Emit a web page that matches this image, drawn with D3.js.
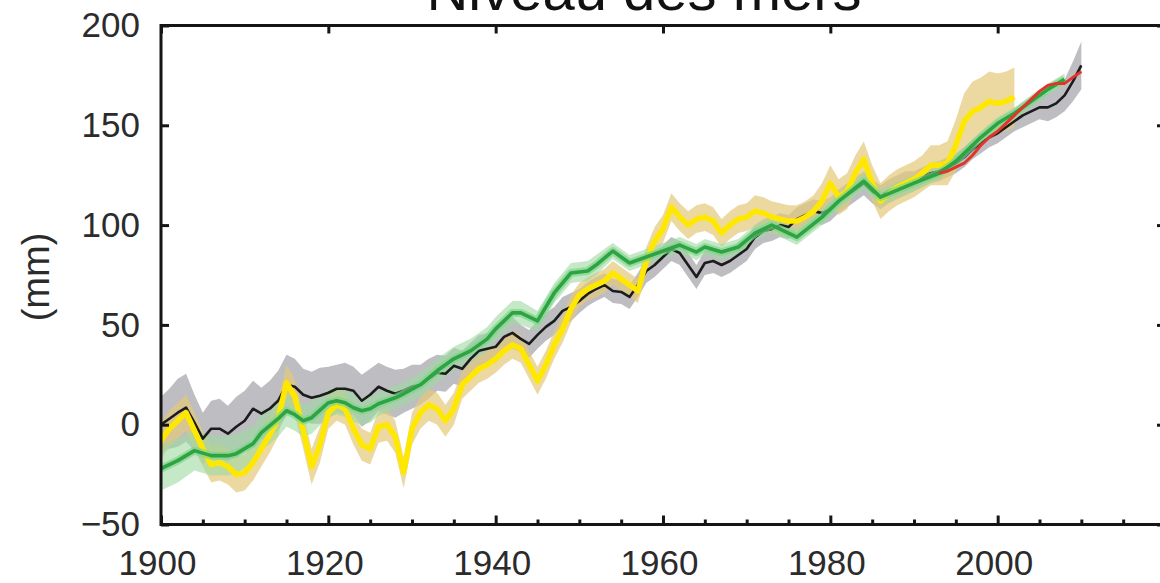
<!DOCTYPE html>
<html>
<head>
<meta charset="utf-8">
<script src="https://cdn.jsdelivr.net/npm/d3@7/dist/d3.min.js"></script>
<style>
  html, body { margin: 0; padding: 0; background: #fff; }
  svg { display: block; font-family: "Liberation Sans", Arial, sans-serif; }
</style>
</head>
<body>
<svg id="chart" width="1160" height="583"></svg>
<script>
// ---------- DATA ----------
const title = "Niveau des mers";
const yLabel = "(mm)";
const xTickLabels = [1900, 1920, 1940, 1960, 1980, 2000];
const yTickLabels = [-50, 0, 50, 100, 150, 200];

// Black series (annual, starting 1900) with grey uncertainty band
const blackStart = 1900;
const blackValues = [
  0, 3, 6, 8.5, 1, -7, -2, -2, -4.5, -1,
  2, 8, 5.5, 8, 12, 20, 19, 15, 13.5, 14.5,
  16, 18, 18, 17, 12, 15, 19, 17, 15.5, 17,
  19, 20, 23, 26, 25.5, 29.5, 28, 33, 37, 38,
  39, 44, 46, 43, 40.5, 45, 49, 52, 57, 59,
  62, 65.5, 68, 70, 67, 66.5, 64, 70, 77, 80,
  84, 88, 86, 80, 74, 81, 82, 80, 82, 85,
  88, 94, 97, 98, 100, 99, 103, 105, 107, 106,
  108, 112, 115, 118, 121, 117, 114, 117, 119, 121,
  122, 124, 126, 127, 129, 131, 134, 138, 141, 144,
  146, 149, 152, 155, 157, 159, 159, 161, 165, 172,
  180
];
const blackErr = [
  14, 15, 17, 17, 14, 13, 14, 15, 14, 15,
  15, 14, 13, 14, 15, 15, 14, 13, 13, 14,
  13, 12, 13, 12, 13, 13, 12, 12, 12, 11,
  11, 10, 10, 9, 9, 9, 9, 8, 8, 8,
  8, 8, 8, 7, 7, 7, 7, 7, 7, 7,
  6, 6, 6, 6, 6, 6, 6, 6, 6, 6,
  6, 6, 6, 6, 6, 6, 6, 6, 6, 6,
  6, 6, 6, 6, 6, 6, 6, 6, 6, 6,
  6, 6, 6, 6, 6, 6, 6, 6, 6, 6,
  5, 5, 5, 5, 5, 5, 5, 5, 5, 5,
  5, 5, 5, 6, 6, 6, 7, 7, 8, 10,
  12
];

// Yellow series (annual, starting 1900) with tan uncertainty band
const yellowStart = 1900;
const yellowValues = [
  -8, -2, 2, 6, -3, -12, -20, -19, -21, -25,
  -24, -19, -12, -5, 3, 21, 14, -3, -21, -10,
  6, 10, 8, -2, -10, -12, -1, 0, -6, -24,
  -2, 6, 10, 8, 2, 8, 20, 24, 28, 30,
  33, 37, 40, 38, 30, 22, 30, 40, 48, 58,
  65, 68, 70, 72, 76, 73, 70, 67, 82, 92,
  98, 109, 104, 100, 103, 104, 102, 96, 100, 103,
  104, 107, 106, 104, 103, 102, 102, 104, 107, 112,
  121, 114, 117, 126, 133, 121, 112, 116, 119, 121,
  123, 126, 130, 130, 131, 140, 152, 157, 159, 162,
  161, 162, 164
];
const yellowErr = [
  9, 9, 9, 9, 9, 9, 9, 9, 9, 9,
  9, 9, 9, 9, 9, 9, 9, 9, 9, 9,
  8, 8, 8, 8, 8, 8, 8, 8, 8, 8,
  8, 8, 8, 8, 8, 8, 7, 7, 7, 7,
  7, 7, 7, 7, 7, 7, 7, 7, 7, 7,
  6, 6, 6, 6, 6, 6, 6, 6, 7, 7,
  7, 7, 7, 7, 7, 7, 7, 7, 7, 7,
  7, 8, 8, 8, 8, 8, 8, 8, 8, 9,
  9, 9, 9, 9, 9, 9, 9, 9, 9, 9,
  9, 9, 10, 10, 11, 13, 14, 15, 15, 15,
  15, 15, 15
];

// Green series (smoothed) with light green uncertainty band
const greenYears = [
  1900, 1902, 1904, 1906, 1908, 1909, 1911, 1912, 1914, 1915,
  1916, 1917, 1918, 1920, 1921, 1922, 1923, 1924, 1925, 1926,
  1928, 1929, 1931, 1933, 1935, 1937, 1939, 1940, 1942, 1943,
  1945, 1947, 1949, 1951, 1952, 1954, 1956, 1958, 1960, 1962,
  1964, 1965, 1967, 1969, 1971, 1973, 1974, 1976, 1979, 1981,
  1984, 1986, 1990, 1993, 1995, 1998, 2000, 2002, 2004, 2006,
  2008
];
const greenValues = [
  -22, -18, -13, -15.5, -15.5, -14.5, -9.5, -4, 3, 7,
  5, 2, 3.5, 11, 12, 11, 8.5, 7, 8, 10.5,
  13.5, 15.5, 20, 27, 33, 37, 43, 48, 56, 56,
  52, 66, 76, 77, 80, 87, 81, 84, 87, 90,
  86.5, 89, 86.5, 89, 96, 100, 98, 94, 104, 112,
  122, 114, 121, 126, 132, 144, 151, 156, 162, 168,
  173
];
const greenErr = [
  11, 11, 10, 10, 10, 10, 9, 9, 9, 8,
  8, 8, 8, 7, 7, 7, 7, 7, 7, 6,
  6, 6, 6, 6, 6, 6, 6, 6, 6, 6,
  5, 5, 5, 5, 5, 4, 4, 4, 4, 4,
  4, 4, 4, 4, 4, 4, 4, 4, 4, 4,
  4, 4, 4, 3, 3, 3, 3, 3, 3, 3,
  3
];

// Red series (satellite era)
const redStart = 1993;
const redValues = [
  126, 127, 129, 131, 135, 140, 144, 147, 151, 155,
  159, 163, 167, 170, 171, 171, 174, 177
];

// ---------- CHART ----------
const svg = d3.select("#chart");
const plot = { left: 161, right: 1165, top: 25.5, bottom: 524.5 };

const x = d3.scaleLinear().domain([1900, 2020]).range([plot.left, plot.right]);
const y = d3.scaleLinear().domain([-50, 200]).range([plot.bottom, plot.top]);

const black = blackValues.map((v, i) => ({ year: blackStart + i, v, e: blackErr[i] }));
const yellow = yellowValues.map((v, i) => ({ year: yellowStart + i, v, e: yellowErr[i] }));
const green = greenValues.map((v, i) => ({ year: greenYears[i], v, e: greenErr[i] }));
const red = redValues.map((v, i) => ({ year: redStart + i, v }));

svg.append("defs").append("clipPath").attr("id", "clip")
  .append("rect")
  .attr("x", plot.left).attr("y", plot.top)
  .attr("width", plot.right - plot.left).attr("height", plot.bottom - plot.top);

const g = svg.append("g").attr("clip-path", "url(#clip)");

const band = d3.area()
  .x(d => x(d.year))
  .y0(d => y(d.v - d.e))
  .y1(d => y(d.v + d.e));
const line = d3.line().x(d => x(d.year)).y(d => y(d.v));

// bands
g.append("path").datum(black).attr("d", band)
  .attr("fill", "#a3a4aa").attr("fill-opacity", 0.72);
g.append("path").datum(yellow).attr("d", band)
  .attr("fill", "#e4c97a").attr("fill-opacity", 0.7);
g.append("path").datum(green).attr("d", band)
  .attr("fill", "#9fd9a2").attr("fill-opacity", 0.6);

// lines
g.append("path").datum(black).attr("d", line)
  .attr("fill", "none").attr("stroke", "#1c1c1c").attr("stroke-width", 2.6)
  .attr("stroke-linejoin", "round");
g.append("path").datum(yellow).attr("d", line)
  .attr("fill", "none").attr("stroke", "#ffe800").attr("stroke-width", 5.5)
  .attr("stroke-linejoin", "round");
g.append("path").datum(green).attr("d", line)
  .attr("fill", "none").attr("stroke", "#7fd68a").attr("stroke-width", 8)
  .attr("stroke-opacity", 0.7).attr("stroke-linejoin", "round");
g.append("path").datum(green).attr("d", line)
  .attr("fill", "none").attr("stroke", "#2ea344").attr("stroke-width", 3.6)
  .attr("stroke-linejoin", "round");
g.append("path").datum(red).attr("d", line)
  .attr("fill", "none").attr("stroke", "#e2352a").attr("stroke-width", 3)
  .attr("stroke-linejoin", "round");

// ---------- AXES ----------
const minorYears = d3.range(1905, 2020, 5).filter(yr => yr % 20 !== 0);
const tickColor = "#151515";

const bottomMajor = svg.append("g").attr("transform", `translate(0,${plot.bottom})`)
  .call(d3.axisBottom(x).tickValues(xTickLabels).tickFormat(d3.format("d"))
    .tickSizeInner(-9).tickSizeOuter(0).tickPadding(26));
const bottomMinor = svg.append("g").attr("transform", `translate(0,${plot.bottom})`)
  .call(d3.axisBottom(x).tickValues(minorYears).tickFormat("")
    .tickSizeInner(-5).tickSizeOuter(0));
const topMajor = svg.append("g").attr("transform", `translate(0,${plot.top})`)
  .call(d3.axisTop(x).tickValues(xTickLabels.concat([2020])).tickFormat("")
    .tickSizeInner(-8).tickSizeOuter(0));
const leftAxis = svg.append("g").attr("transform", `translate(${plot.left},0)`)
  .call(d3.axisLeft(y).tickValues(yTickLabels)
    .tickSizeInner(-8).tickSizeOuter(0).tickPadding(21));
const rightAxis = svg.append("g").attr("transform", `translate(${plot.right},0)`)
  .call(d3.axisRight(y).tickValues(yTickLabels).tickFormat("")
    .tickSizeInner(-8).tickSizeOuter(0));

[bottomMajor, bottomMinor, topMajor, leftAxis, rightAxis].forEach(a => {
  a.select(".domain").remove();
  a.selectAll(".tick line").attr("stroke", tickColor).attr("stroke-width", 3);
  a.selectAll(".tick text")
    .attr("font-family", "'Liberation Sans', Arial, sans-serif")
    .attr("font-size", 35).attr("fill", "#2b2b2b");
});
bottomMajor.selectAll(".tick text").attr("dx", -4);

// frame
svg.append("rect")
  .attr("x", plot.left).attr("y", plot.top)
  .attr("width", plot.right - plot.left).attr("height", plot.bottom - plot.top)
  .attr("fill", "none").attr("stroke", tickColor).attr("stroke-width", 3);

// title (cut by the top edge, as in the reference)
svg.append("text")
  .attr("x", 644).attr("y", 10)
  .attr("text-anchor", "middle")
  .attr("font-size", 58).attr("fill", "#111")
  .text(title);

// y label
svg.append("text")
  .attr("transform", "translate(36,277) rotate(-90)")
  .attr("text-anchor", "middle").attr("dominant-baseline", "central")
  .attr("font-size", 38).attr("fill", "#2b2b2b")
  .text(yLabel);
</script>
</body>
</html>
